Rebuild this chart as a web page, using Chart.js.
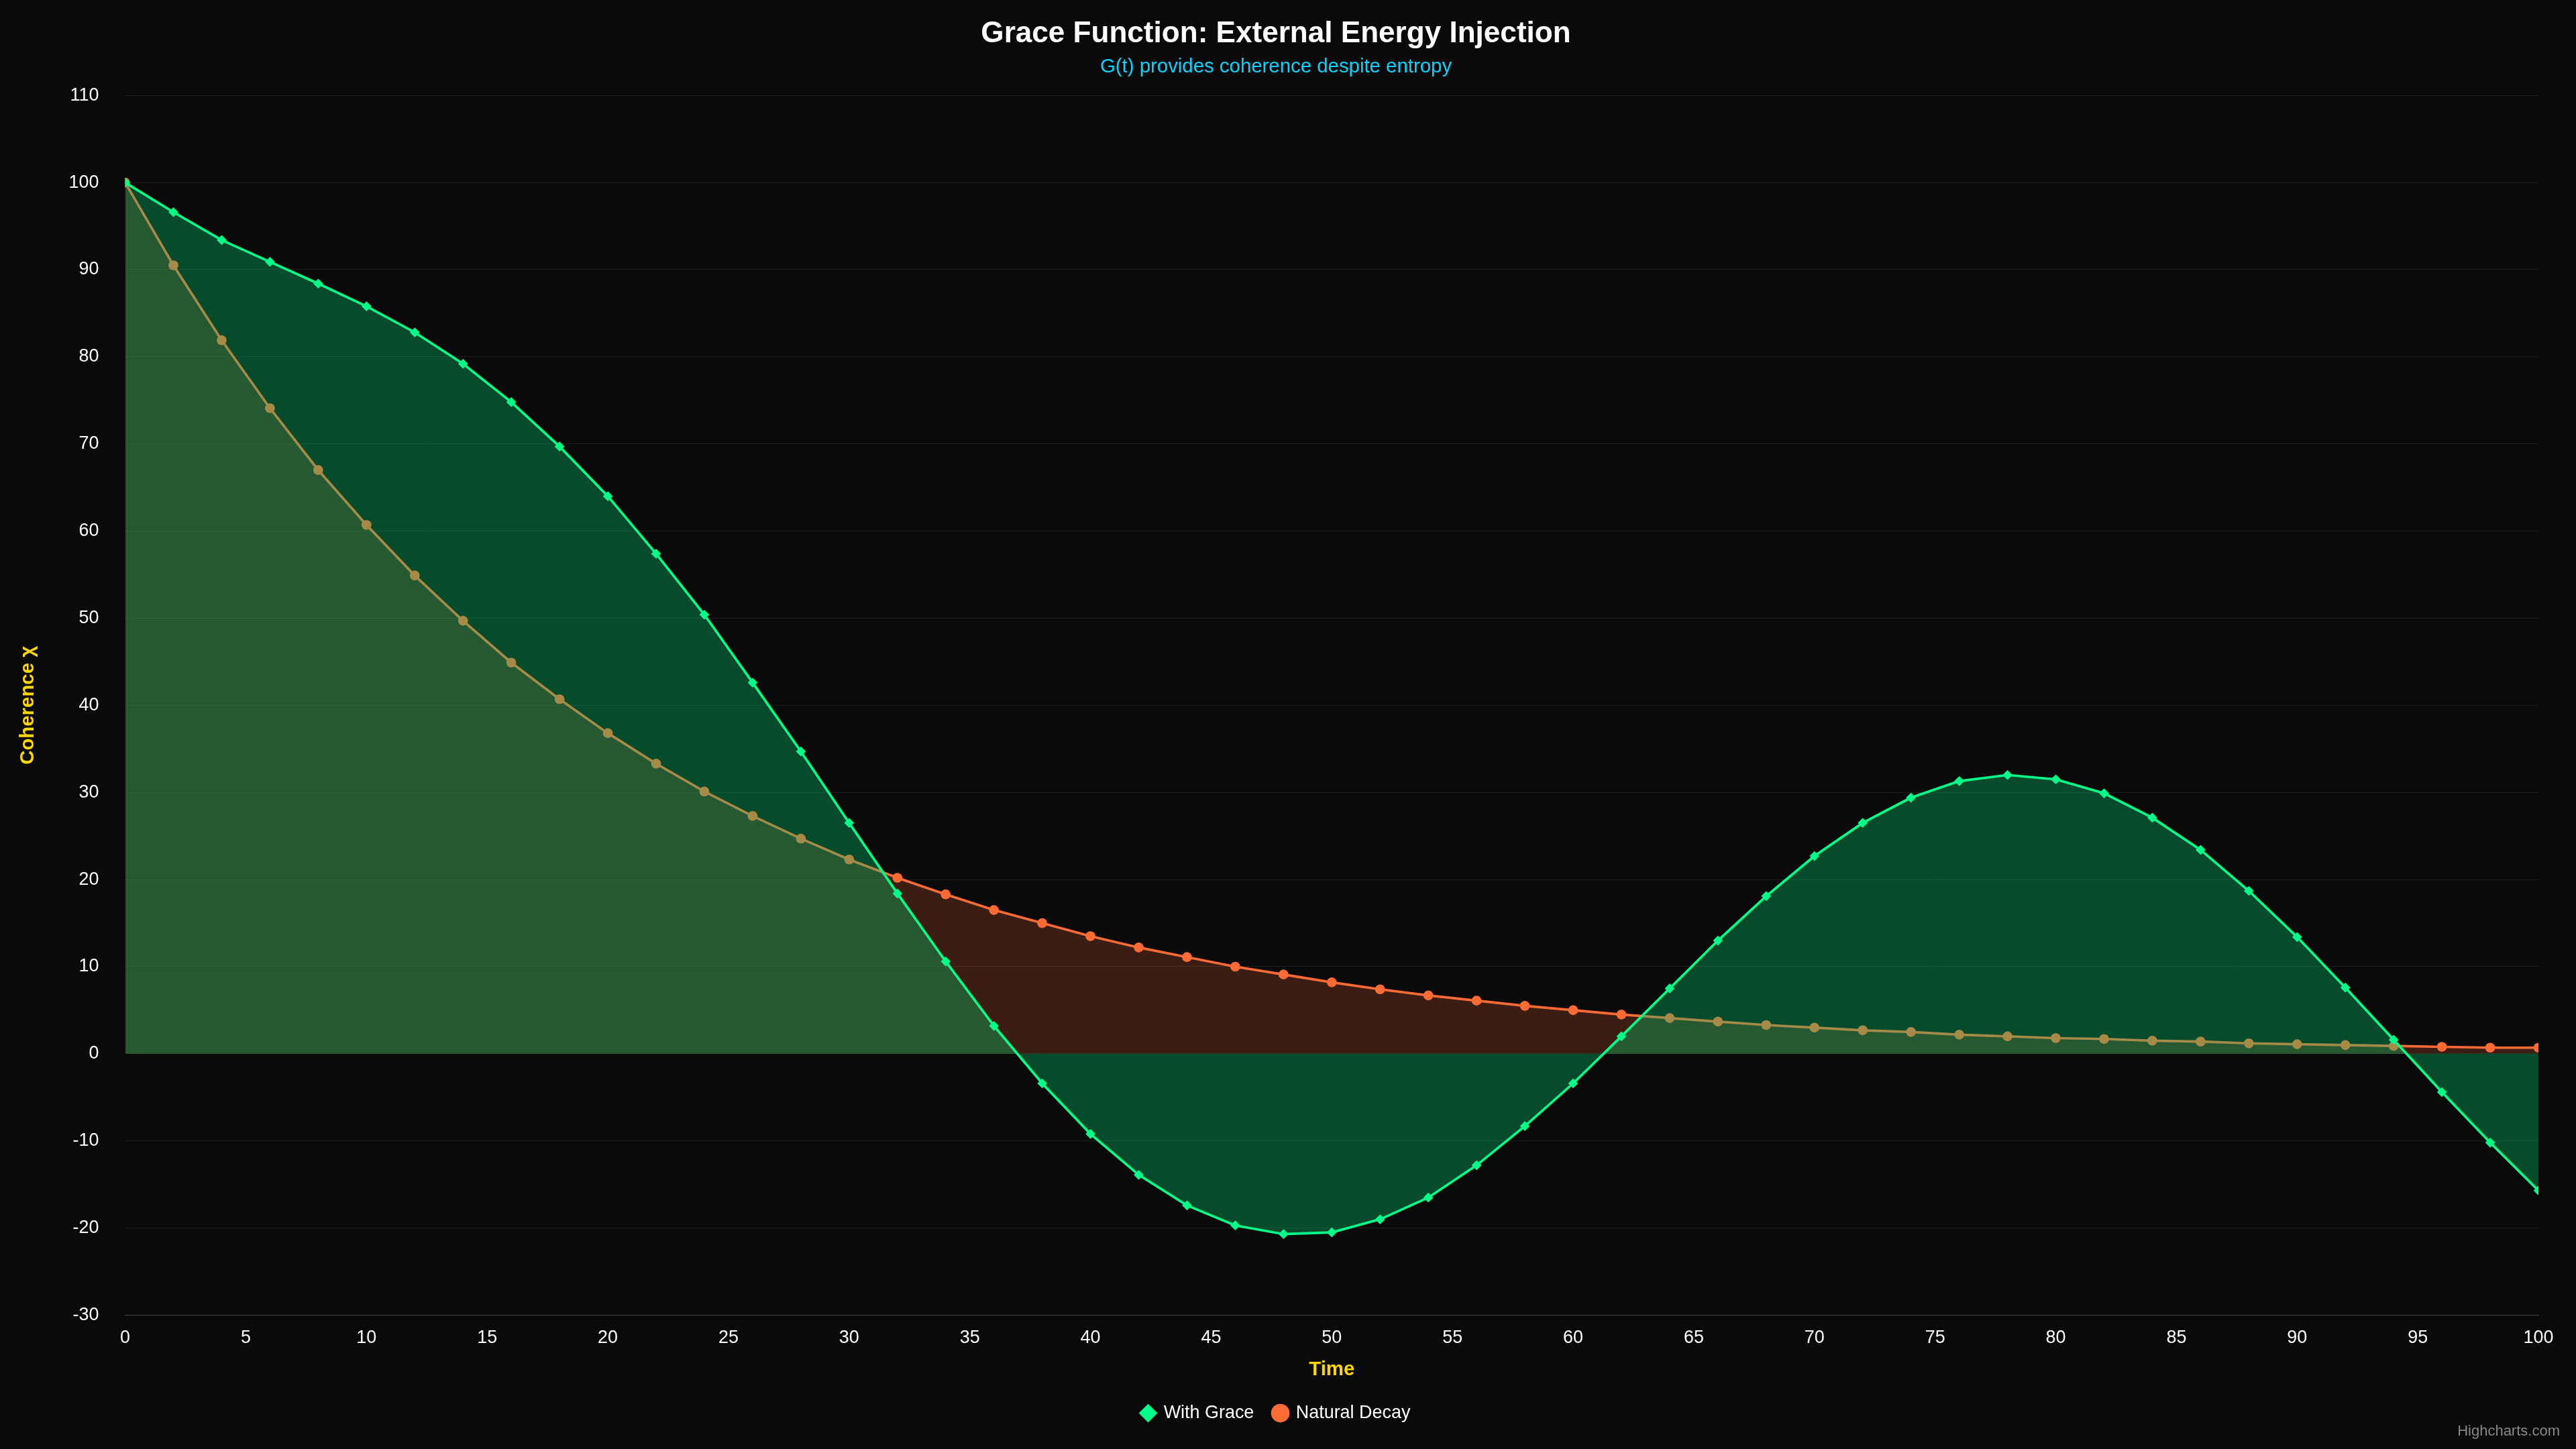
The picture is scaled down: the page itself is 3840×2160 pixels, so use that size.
<!DOCTYPE html>
<html><head><meta charset="utf-8">
<script src="https://cdn.jsdelivr.net/npm/chart.js@4"></script>
<style>
html,body{margin:0;padding:0;background:#0a0a0a;}
#wrap{position:relative;width:3840px;height:2160px;}
#credit{position:absolute;right:24px;bottom:14px;color:#888;font:22px "Liberation Sans",Arial,sans-serif;}
</style></head><body>
<div id="wrap"><canvas id="c" width="3840" height="2160"></canvas><div id="credit">Highcharts.com</div></div>
<script>
const times = [];
for (let t = 0; t <= 100; t += 2) times.push(t);
const naturalDecay = [100,90.5,81.9,74.1,67.0,60.7,54.9,49.7,44.9,40.7,36.8,33.3,30.1,27.3,24.7,22.3,20.2,18.3,16.5,15.0,13.5,12.2,11.1,10.0,9.1,8.2,7.4,6.7,6.1,5.5,5.0,4.5,4.1,3.7,3.3,3.0,2.7,2.5,2.2,2.0,1.8,1.7,1.5,1.4,1.2,1.1,1.0,0.9,0.8,0.7,0.7];
const withGrace = [100,96.6,93.4,90.9,88.4,85.8,82.8,79.2,74.8,69.7,64.0,57.4,50.4,42.6,34.7,26.5,18.4,10.6,3.2,-3.4,-9.2,-13.9,-17.4,-19.7,-20.7,-20.5,-19.0,-16.5,-12.8,-8.3,-3.4,2.0,7.5,13.0,18.1,22.7,26.5,29.4,31.3,32.0,31.5,29.9,27.1,23.4,18.7,13.4,7.6,1.6,-4.4,-10.2,-15.7];
const s = 2.449;
const font = '"Liberation Sans", Arial, sans-serif';
new Chart(document.getElementById('c'), {
  type: 'line',
  data: { datasets: [
    { label: 'Natural Decay', data: times.map((t,i)=>({x:t,y:naturalDecay[i]})),
      borderColor: '#ff6b35', backgroundColor: 'rgba(255,107,53,0.2)', fill: 'origin',
      borderWidth: 1.5*s, pointRadius: 3*s, pointBackgroundColor: '#ff6b35', pointBorderWidth: 0, tension: 0, order: 1 },
    { label: 'With Grace', data: times.map((t,i)=>({x:t,y:withGrace[i]})),
      borderColor: '#00ff88', backgroundColor: 'rgba(0,200,110,0.35)', fill: 'origin',
      borderWidth: 1.5*s, pointRadius: 3*s, pointStyle: 'rectRot', pointBackgroundColor: '#00ff88', pointBorderWidth: 0, tension: 0, order: 0 }
  ]},
  options: {
    responsive: false, animation: false, devicePixelRatio: 1,
    layout: { padding: { left: 20, right: 56, top: 10, bottom: 30 } },
    plugins: {
      title: { display: true, text: 'Grace Function: External Energy Injection', color: '#ffffff',
        font: { family: font, size: 18*s, weight: 'bold' }, padding: { top: 6*s, bottom: 2*s } },
      subtitle: { display: true, text: 'G(t) provides coherence despite entropy', color: '#00d4ff',
        font: { family: font, size: 12*s }, padding: { bottom: 10*s } },
      legend: { position: 'bottom', labels: { color: '#ffffff', font: { family: font, size: 11*s },
        usePointStyle: true, boxWidth: 8*s, boxHeight: 8*s, padding: 12*s } },
      tooltip: { enabled: false }
    },
    scales: {
      x: { type: 'linear', min: 0, max: 100, offset: false,
        grace: 0,
        ticks: { stepSize: 5, color: '#ffffff', font: { family: font, size: 11*s }, padding: 4*s },
        grid: { display: false, drawTicks: true },
        border: { color: '#444' },
        title: { display: true, text: 'Time', color: '#ffd700', font: { family: font, size: 12*s, weight: 'bold' } } },
      y: { min: -30, max: 110,
        ticks: { stepSize: 10, color: '#ffffff', font: { family: font, size: 11*s }, padding: 16*s },
        grid: { color: '#1e1e1e', drawTicks: false },
        border: { display: false },
        title: { display: true, text: 'Coherence χ', color: '#ffd700', font: { family: font, size: 12*s, weight: 'bold' } } }
    }
  }
});
</script></body></html>
